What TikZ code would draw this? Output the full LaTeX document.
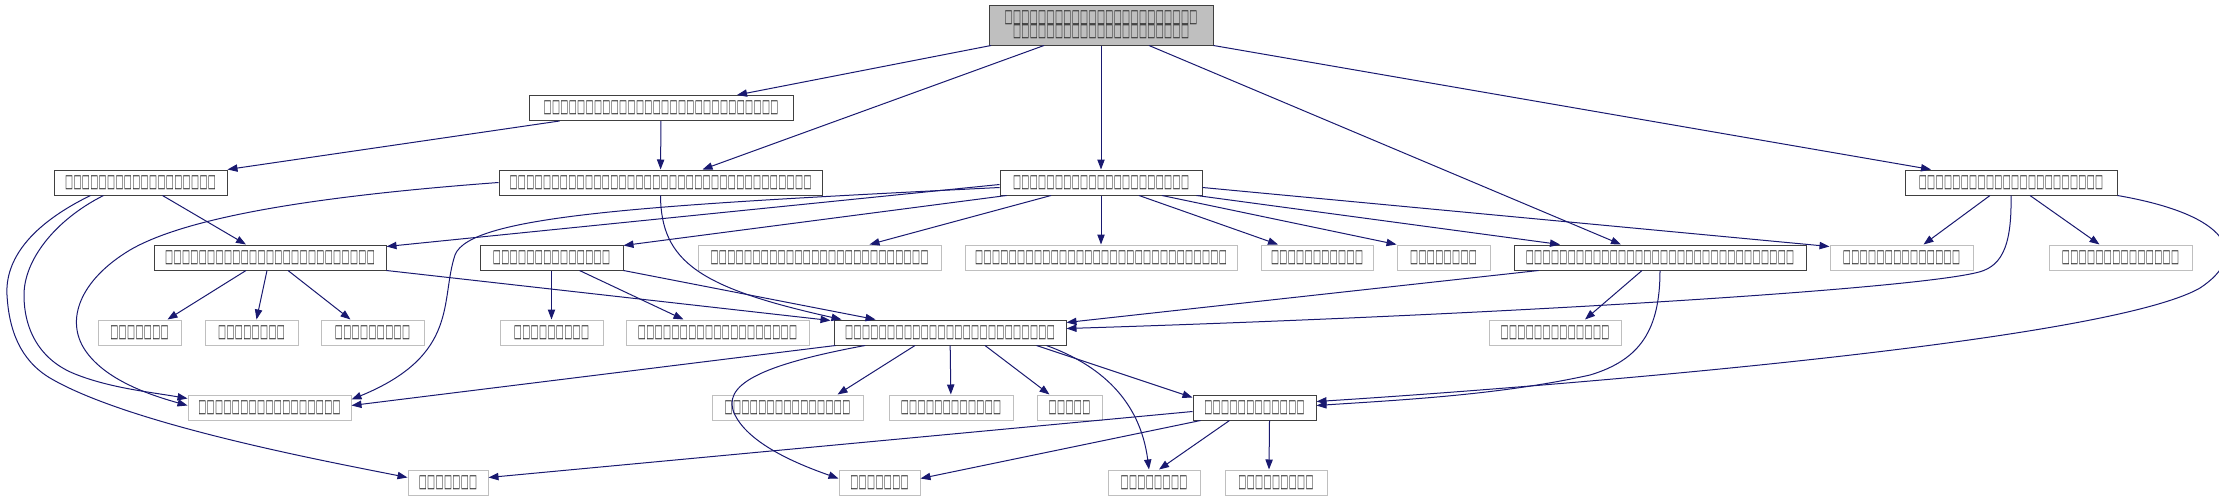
\documentclass[tikz,border=0pt]{standalone}
\usepackage{fontspec}
\setmainfont{DejaVu Sans}
\usepackage{graphicx}
\usepackage{tikz}
\usetikzlibrary{arrows.meta,calc}
\definecolor{edgeblue}{RGB}{25,25,112}
\definecolor{nodeline}{RGB}{64,64,64}
\definecolor{greyline}{RGB}{191,191,191}
\definecolor{rootfill}{RGB}{191,191,191}
\definecolor{glyphgrey}{RGB}{40,40,40}
% a row of missing-glyph boxes, as the graph prints its labels
\newcommand\tofu[1]{\foreach\k in {1,...,#1}{\makebox[6.3pt]{\resizebox{6pt}{8.8pt}{□}}}}
\tikzset{
  refnode/.style={draw=nodeline, fill=white, line width=0.75pt, inner sep=0pt,
                  minimum height=18.75pt, text=glyphgrey, font=\fontsize{12}{12}\selectfont\bfseries},
  extnode/.style={refnode, draw=greyline},
  rootnode/.style={refnode, fill=rootfill, minimum height=30pt, align=center,
                   font=\fontsize{12}{10.5}\selectfont\bfseries},
  bw/.style={minimum width=#1*0.75pt},
  dep/.style={-{Triangle[length=7.5pt,width=5.5pt]}, edgeblue, line width=0.75pt}
}

\begin{document}
\begin{tikzpicture}[x=0.75pt,y=-0.75pt]
  \useasboundingbox (0,0) rectangle (2219,500);

  %% nodes, row by row
  \node[rootnode, bw=224] (root) at (1101,25) {\tofu{23}\\\tofu{21}};

  \node[refnode, bw=264] (p1) at (661,108) {\tofu{28}};

  \node[refnode, bw=173] (l1) at (140.5,182.5) {\tofu{18}};
  \node[refnode, bw=323] (p2) at (660.5,182.5) {\tofu{36}};
  \node[refnode, bw=202] (c) at (1101,182.5) {\tofu{21}};
  \node[refnode, bw=212] (r1) at (2011,182.5) {\tofu{22}};

  \node[refnode, bw=232] (q1) at (270,257.5) {\tofu{25}};
  \node[refnode, bw=143] (q2) at (551.5,257.5) {\tofu{14}};
  \node[extnode, bw=243] (g1) at (819.5,257.5) {\tofu{26}};
  \node[extnode, bw=272] (g2) at (1101,257.5) {\tofu{30}};
  \node[extnode, bw=112] (g3) at (1317,257.5) {\tofu{11}};
  \node[extnode, bw=93]  (g4) at (1443.5,257.5) {\tofu{8}};
  \node[refnode, bw=292] (q3) at (1660,257.5) {\tofu{32}};
  \node[extnode, bw=143] (g5) at (1901.5,257.5) {\tofu{14}};
  \node[extnode, bw=143] (g6) at (2120.5,257.5) {\tofu{14}};

  \node[extnode, bw=83]  (h1) at (139.5,332.5) {\tofu{7}};
  \node[extnode, bw=93]  (h2) at (251.5,332.5) {\tofu{8}};
  \node[extnode, bw=103] (h3) at (372.5,332.5) {\tofu{9}};
  \node[extnode, bw=103] (h4) at (551.5,332.5) {\tofu{9}};
  \node[extnode, bw=183] (h5) at (717.5,332.5) {\tofu{19}};
  \node[refnode, bw=232] (m) at (950,332.5) {\tofu{25}};
  \node[extnode, bw=132] (h6) at (1555,332.5) {\tofu{13}};

  \node[extnode, bw=163] (k1) at (269.5,407.5) {\tofu{17}};
  \node[extnode, bw=151] (k2) at (787.5,407.5) {\tofu{15}};
  \node[extnode, bw=124] (k3) at (951,407.5) {\tofu{12}};
  \node[extnode, bw=65]  (k4) at (1069.5,407.5) {\tofu{5}};
  \node[refnode, bw=123] (nb) at (1254.5,407.5) {\tofu{12}};

  \node[extnode, bw=80]  (j1) at (448,482.5) {\tofu{7}};
  \node[extnode, bw=81]  (j2) at (879.5,482.5) {\tofu{7}};
  \node[extnode, bw=92]  (j3) at (1154,482.5) {\tofu{8}};
  \node[extnode, bw=102] (j4) at (1276,482.5) {\tofu{9}};

  %% edges
  % root
  \draw[dep] ($(root.south)+(-110,0)$) -- ($(p1.north)+(76,0)$);
  \draw[dep] ($(root.south)+(-57,0)$) -- ($(p2.north)+(42,0)$);
  \draw[dep] (root) -- (c);
  \draw[dep] ($(root.south)+(48,0)$) -- ($(q3.north)+(-39,0)$);
  \draw[dep] (root.south east) -- ($(r1.north)+(-80,0)$);
  % p1
  \draw[dep] ($(p1.south west)+(31,0)$) -- (l1.north east);
  \draw[dep] (p1) -- (p2);
  % l1
  \draw[dep] ($(l1.south)+(22,0)$) -- ($(q1.north)+(-24,0)$);
  \draw[dep] ($(l1.south west)+(37,0)$) .. controls (30,225) and (5,260) .. (7,295)
             .. controls (9,330) and (20,360) .. (50,378)
             .. controls (130,425) and (330,462) .. ($(j1.west)+(0,-5)$);
  \draw[dep] ($(l1.south west)+(50,0)$) .. controls (55,220) and (24,260) .. (24,295)
             .. controls (24,330) and (40,360) .. (75,374)
             .. controls (110,388) and (150,392) .. ($(k1.north west)+(0,4)$);
  % p2
  \draw[dep] (p2.west) .. controls (330,195) and (190,215) .. (130,250)
             .. controls (80,280) and (65,320) .. (85,350)
             .. controls (105,380) and (150,395) .. ($(k1.west)+(0,-2)$);
  \draw[dep] (p2.south) .. controls (661,262) and (700,288) .. ($(m.north west)+(8,0)$);
  % c
  \draw[dep] ($(c.west)+(0,2)$) -- ($(q1.north east)+(0,2)$);
  \draw[dep] ($(c.west)+(0,5)$) .. controls (650,205) and (470,215) .. (455,255)
             .. controls (440,300) and (460,355) .. ($(k1.north east)+(0,5)$);
  \draw[dep] ($(c.south west)+(7,0)$) -- ($(q2.north east)+(0,1)$);
  \draw[dep] ($(c.south)+(-50,0)$) -- ($(g1.north)+(50,0)$);
  \draw[dep] (c) -- (g2);
  \draw[dep] ($(c.south)+(38,0)$) -- ($(g3.north)+(-39,0)$);
  \draw[dep] ($(c.south)+(61,0)$) -- (g4.north west);
  \draw[dep] ($(c.south east)+(-6,0)$) -- ($(q3.north)+(-100,0)$);
  \draw[dep] ($(c.east)+(0,5)$) -- ($(g5.north west)+(0,2)$);
  % r1
  \draw[dep] ($(r1.south)+(-21,0)$) -- ($(g5.north)+(22,0)$);
  \draw[dep] ($(r1.south)+(19,0)$) -- ($(g6.north)+(-21,0)$);
  \draw[dep] (r1.south) .. controls (2012,250) and (2000,268) .. (1975,273)
             .. controls (1900,290) and (1500,315) .. ($(m.east)+(0,-4)$);
  \draw[dep] (r1.south east) .. controls (2230,215) and (2250,255) .. (2200,288)
             .. controls (2100,345) and (1500,390) .. ($(nb.east)+(0,-6)$);
  % q1, q2, q3
  \draw[dep] ($(q1.south)+(-24,0)$) -- ($(h1.north)+(28,0)$);
  \draw[dep] ($(q1.south)+(-3,0)$) -- ($(h2.north)+(5,0)$);
  \draw[dep] ($(q1.south)+(18,0)$) -- ($(h3.north)+(-22,0)$);
  \draw[dep] (q1.south east) -- ($(m.north west)+(-3,1)$);
  \draw[dep] (q2) -- (h4);
  \draw[dep] ($(q2.south)+(28,0)$) -- ($(h5.north)+(-34,0)$);
  \draw[dep] (q2.south east) -- ($(m.north west)+(42,0)$);
  \draw[dep] ($(q3.south west)+(25,0)$) -- ($(m.north east)+(0,3)$);
  \draw[dep] ($(q3.south)+(-18,0)$) -- ($(h6.north)+(30,0)$);
  \draw[dep] (q3.south) .. controls (1660,330) and (1640,360) .. (1590,375)
             .. controls (1500,395) and (1400,400) .. ($(nb.east)+(0,-2)$);
  % m
  \draw[dep] ($(m.south west)+(2,0)$) -- ($(k1.east)+(0,-2)$);
  \draw[dep] ($(m.south)+(-85,0)$) .. controls (760,365) and (720,385) .. (735,415)
             .. controls (750,445) and (800,465) .. ($(j2.west)+(0,-4)$);
  \draw[dep] ($(m.south)+(-35,0)$) -- ($(k2.north)+(50,0)$);
  \draw[dep] (m) -- (k3);
  \draw[dep] ($(m.south)+(35,0)$) -- ($(k4.north)+(-20,0)$);
  \draw[dep] ($(m.south east)+(-30,0)$) -- ($(nb.north west)+(0,3)$);
  \draw[dep] ($(m.south east)+(-20,0)$) .. controls (1100,365) and (1140,400) .. ($(j3.north)+(-5,0)$);
  % nb
  \draw[dep] ($(nb.west)+(0,4)$) -- ($(j1.east)+(0,-5)$);
  \draw[dep] ($(nb.south west)+(8,0)$) -- ($(j2.east)+(0,-4)$);
  \draw[dep] ($(nb.south)+(-25,0)$) -- ($(j3.north)+(5,0)$);
  \draw[dep] ($(nb.south)+(15,0)$) -- ($(j4.north)+(-7,0)$);
\end{tikzpicture}
\end{document}
